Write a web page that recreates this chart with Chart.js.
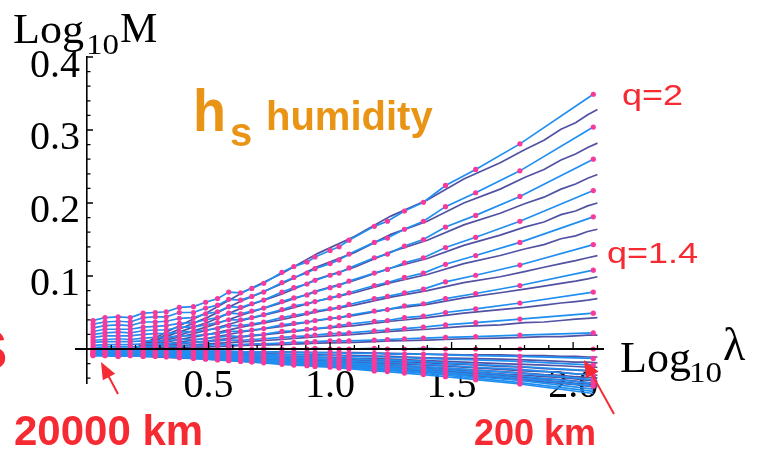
<!DOCTYPE html>
<html>
<head>
<meta charset="utf-8">
<script src="https://cdn.jsdelivr.net/npm/chart.js@4/dist/chart.umd.min.js"></script>
<style>
  html, body { margin: 0; padding: 0; background: #fff; }
  canvas { display: block; }
</style>
</head>
<body>
<canvas id="moments" width="758" height="450"></canvas>
<script>
// ========================
// DATA
// ========================

// scale ratio positions (log10 lambda) where the moments were sampled
const logLambda = [0.025, 0.074, 0.128, 0.178, 0.231, 0.281, 0.326, 0.380, 0.438, 0.488,
                   0.537, 0.583, 0.632, 0.678, 0.727, 0.802, 0.851, 0.905, 0.938, 1.000,
                   1.037, 1.078, 1.182, 1.236, 1.306, 1.384, 1.475, 1.599, 1.781, 2.083];

// denser positions for the raw (unsampled) curves
const rawLogLambda = [0.19, 0.35, 0.50, 0.65, 0.80, 0.95, 1.10, 1.25, 1.40, 1.55,
                      1.70, 1.80, 1.88, 1.95, 2.01, 2.06, 2.10];

const qValues = [2.0, 1.9, 1.8, 1.7, 1.6, 1.5, 1.4, 1.3, 1.2, 1.1, 1.0,
                 0.9, 0.8, 0.7, 0.6, 0.5, 0.4, 0.3, 0.2, 0.1, 0.0];

// log10 M at the sampled points, one array per q
const fit20 = [0.039, 0.043, 0.044, 0.043, 0.049, 0.050, 0.051, 0.057, 0.058, 0.064, 0.069, 0.078, 0.077, 0.083, 0.090, 0.105, 0.113, 0.119, 0.126, 0.135, 0.140, 0.149, 0.168, 0.175, 0.189, 0.201, 0.224, 0.246, 0.281, 0.349];
const fit19 = [0.034, 0.037, 0.038, 0.037, 0.043, 0.044, 0.044, 0.050, 0.050, 0.056, 0.060, 0.068, 0.067, 0.072, 0.078, 0.091, 0.098, 0.104, 0.110, 0.117, 0.122, 0.130, 0.146, 0.152, 0.164, 0.175, 0.195, 0.214, 0.244, 0.304];
const fit18 = [0.029, 0.032, 0.033, 0.032, 0.037, 0.037, 0.038, 0.042, 0.043, 0.048, 0.051, 0.058, 0.057, 0.062, 0.067, 0.078, 0.084, 0.089, 0.094, 0.101, 0.104, 0.111, 0.125, 0.130, 0.141, 0.150, 0.167, 0.183, 0.209, 0.260];
const fit17 = [0.024, 0.027, 0.027, 0.027, 0.030, 0.031, 0.032, 0.035, 0.036, 0.040, 0.043, 0.049, 0.048, 0.052, 0.056, 0.065, 0.070, 0.074, 0.078, 0.084, 0.087, 0.093, 0.104, 0.109, 0.118, 0.125, 0.139, 0.153, 0.175, 0.217];
const fit16 = [0.020, 0.022, 0.023, 0.022, 0.025, 0.026, 0.026, 0.030, 0.030, 0.033, 0.036, 0.040, 0.040, 0.043, 0.047, 0.054, 0.059, 0.062, 0.065, 0.070, 0.073, 0.077, 0.087, 0.091, 0.098, 0.104, 0.116, 0.128, 0.146, 0.181];
const fit15 = [0.016, 0.018, 0.018, 0.018, 0.020, 0.021, 0.021, 0.023, 0.024, 0.026, 0.028, 0.032, 0.032, 0.034, 0.037, 0.043, 0.046, 0.049, 0.052, 0.055, 0.057, 0.061, 0.069, 0.072, 0.077, 0.082, 0.092, 0.101, 0.115, 0.143];
const fit14 = [0.012, 0.013, 0.014, 0.013, 0.015, 0.016, 0.016, 0.018, 0.018, 0.020, 0.021, 0.024, 0.024, 0.026, 0.028, 0.033, 0.035, 0.037, 0.039, 0.042, 0.043, 0.046, 0.052, 0.054, 0.059, 0.062, 0.069, 0.076, 0.087, 0.108];
const fit13 = [0.009, 0.010, 0.010, 0.010, 0.011, 0.011, 0.011, 0.013, 0.013, 0.014, 0.016, 0.018, 0.017, 0.019, 0.020, 0.024, 0.025, 0.027, 0.028, 0.030, 0.032, 0.034, 0.038, 0.039, 0.043, 0.045, 0.050, 0.055, 0.063, 0.078];
const fit12 = [0.005, 0.006, 0.006, 0.006, 0.007, 0.007, 0.007, 0.008, 0.009, 0.010, 0.011, 0.012, 0.012, 0.013, 0.014, 0.016, 0.017, 0.018, 0.019, 0.021, 0.021, 0.022, 0.025, 0.026, 0.028, 0.030, 0.033, 0.036, 0.041, 0.049];
const fit11 = [0.002, 0.003, 0.003, 0.003, 0.003, 0.004, 0.004, 0.004, 0.005, 0.005, 0.006, 0.006, 0.006, 0.007, 0.007, 0.008, 0.009, 0.009, 0.010, 0.011, 0.011, 0.011, 0.012, 0.013, 0.014, 0.015, 0.016, 0.017, 0.019, 0.022];
const fit10 = [0.000, 0.000, 0.001, 0.000, 0.000, 0.001, 0.000, 0.000, 0.001, 0.000, 0.000, 0.001, 0.000, 0.000, 0.001, 0.000, 0.000, 0.000, 0.001, 0.000, 0.000, 0.000, 0.001, 0.000, 0.000, 0.001, 0.000, 0.000, 0.000, 0.000];
const fit09 = [-0.002, -0.002, -0.002, -0.002, -0.002, -0.002, -0.002, -0.003, -0.003, -0.003, -0.003, -0.003, -0.004, -0.004, -0.004, -0.004, -0.005, -0.005, -0.005, -0.005, -0.005, -0.006, -0.006, -0.007, -0.007, -0.007, -0.008, -0.009, -0.010, -0.013];
const fit08 = [-0.003, -0.003, -0.004, -0.003, -0.004, -0.004, -0.004, -0.004, -0.005, -0.005, -0.005, -0.006, -0.006, -0.006, -0.007, -0.008, -0.008, -0.008, -0.009, -0.009, -0.009, -0.010, -0.011, -0.011, -0.012, -0.013, -0.014, -0.015, -0.017, -0.022];
const fit07 = [-0.004, -0.004, -0.005, -0.004, -0.005, -0.005, -0.005, -0.006, -0.006, -0.007, -0.007, -0.008, -0.008, -0.009, -0.009, -0.010, -0.011, -0.011, -0.012, -0.012, -0.013, -0.013, -0.015, -0.015, -0.016, -0.017, -0.019, -0.021, -0.024, -0.030];
const fit06 = [-0.005, -0.005, -0.006, -0.005, -0.006, -0.006, -0.006, -0.007, -0.008, -0.008, -0.009, -0.009, -0.010, -0.011, -0.011, -0.012, -0.013, -0.014, -0.014, -0.015, -0.015, -0.016, -0.018, -0.018, -0.019, -0.021, -0.022, -0.025, -0.028, -0.036];
const fit05 = [-0.006, -0.006, -0.007, -0.006, -0.007, -0.007, -0.008, -0.008, -0.009, -0.010, -0.010, -0.011, -0.012, -0.012, -0.013, -0.014, -0.015, -0.016, -0.017, -0.017, -0.018, -0.019, -0.021, -0.021, -0.023, -0.024, -0.026, -0.029, -0.033, -0.042];
const fit04 = [-0.007, -0.007, -0.008, -0.007, -0.008, -0.008, -0.008, -0.009, -0.010, -0.011, -0.012, -0.012, -0.013, -0.014, -0.015, -0.016, -0.017, -0.018, -0.018, -0.019, -0.020, -0.021, -0.023, -0.024, -0.025, -0.027, -0.029, -0.032, -0.037, -0.047];
const fit03 = [-0.008, -0.008, -0.008, -0.008, -0.008, -0.008, -0.009, -0.010, -0.011, -0.012, -0.013, -0.013, -0.014, -0.015, -0.016, -0.018, -0.018, -0.019, -0.020, -0.021, -0.022, -0.023, -0.025, -0.026, -0.028, -0.029, -0.032, -0.035, -0.040, -0.051];
const fit02 = [-0.008, -0.008, -0.009, -0.008, -0.009, -0.009, -0.010, -0.011, -0.012, -0.013, -0.014, -0.014, -0.015, -0.016, -0.017, -0.019, -0.020, -0.021, -0.022, -0.023, -0.023, -0.024, -0.027, -0.028, -0.030, -0.032, -0.034, -0.038, -0.043, -0.055];
const fit01 = [-0.009, -0.009, -0.010, -0.009, -0.010, -0.010, -0.010, -0.011, -0.012, -0.013, -0.014, -0.015, -0.016, -0.017, -0.018, -0.020, -0.021, -0.022, -0.023, -0.024, -0.025, -0.026, -0.029, -0.029, -0.031, -0.033, -0.036, -0.040, -0.046, -0.058];
const fit00 = [-0.009, -0.009, -0.010, -0.009, -0.010, -0.010, -0.011, -0.012, -0.013, -0.014, -0.015, -0.016, -0.017, -0.018, -0.019, -0.021, -0.022, -0.023, -0.024, -0.025, -0.026, -0.027, -0.030, -0.031, -0.033, -0.035, -0.038, -0.042, -0.048, -0.061];

// raw curves, one array per q
const raw20 = [0.000, 0.027, 0.051, 0.079, 0.103, 0.131, 0.154, 0.182, 0.204, 0.233, 0.255, 0.273, 0.286, 0.301, 0.310, 0.321, 0.328];
const raw19 = [0.000, 0.023, 0.044, 0.068, 0.089, 0.113, 0.132, 0.157, 0.175, 0.200, 0.219, 0.235, 0.246, 0.259, 0.267, 0.276, 0.282];
const raw18 = [0.000, 0.020, 0.037, 0.058, 0.075, 0.096, 0.112, 0.133, 0.149, 0.170, 0.186, 0.199, 0.208, 0.219, 0.226, 0.234, 0.239];
const raw17 = [0.000, 0.016, 0.031, 0.048, 0.063, 0.080, 0.094, 0.111, 0.124, 0.142, 0.156, 0.167, 0.174, 0.184, 0.189, 0.196, 0.200];
const raw16 = [0.000, 0.014, 0.026, 0.040, 0.052, 0.066, 0.077, 0.091, 0.102, 0.117, 0.128, 0.137, 0.143, 0.151, 0.155, 0.161, 0.164];
const raw15 = [0.000, 0.011, 0.020, 0.031, 0.040, 0.051, 0.060, 0.071, 0.080, 0.091, 0.099, 0.106, 0.112, 0.117, 0.121, 0.125, 0.128];
const raw14 = [0.000, 0.008, 0.015, 0.024, 0.031, 0.039, 0.046, 0.055, 0.061, 0.070, 0.077, 0.082, 0.086, 0.090, 0.093, 0.096, 0.099];
const raw13 = [0.000, 0.006, 0.011, 0.017, 0.022, 0.028, 0.032, 0.038, 0.043, 0.049, 0.054, 0.057, 0.060, 0.063, 0.065, 0.067, 0.069];
const raw12 = [0.000, 0.004, 0.007, 0.010, 0.013, 0.017, 0.020, 0.024, 0.027, 0.031, 0.033, 0.036, 0.037, 0.039, 0.041, 0.042, 0.043];
const raw11 = [0.000, 0.002, 0.003, 0.005, 0.006, 0.008, 0.009, 0.011, 0.012, 0.014, 0.015, 0.016, 0.017, 0.017, 0.018, 0.019, 0.019];
const raw10 = [0.000, 0.000, 0.000, 0.000, 0.000, 0.000, 0.000, 0.000, 0.000, 0.000, 0.000, 0.000, 0.000, 0.000, 0.000, 0.000, 0.000];
const raw09 = [-0.002, -0.003, -0.003, -0.004, -0.004, -0.005, -0.005, -0.006, -0.007, -0.008, -0.008, -0.009, -0.009, -0.010, -0.010, -0.011, -0.011];
const raw08 = [-0.003, -0.004, -0.005, -0.006, -0.007, -0.008, -0.009, -0.010, -0.012, -0.013, -0.014, -0.015, -0.016, -0.017, -0.018, -0.018, -0.019];
const raw07 = [-0.004, -0.006, -0.007, -0.008, -0.010, -0.011, -0.013, -0.014, -0.016, -0.018, -0.020, -0.021, -0.022, -0.023, -0.024, -0.025, -0.025];
const raw06 = [-0.005, -0.007, -0.008, -0.010, -0.012, -0.014, -0.015, -0.017, -0.019, -0.021, -0.024, -0.025, -0.027, -0.028, -0.029, -0.030, -0.031];
const raw05 = [-0.006, -0.008, -0.010, -0.012, -0.014, -0.016, -0.018, -0.020, -0.022, -0.025, -0.028, -0.030, -0.031, -0.032, -0.034, -0.035, -0.036];
const raw04 = [-0.007, -0.009, -0.011, -0.013, -0.015, -0.018, -0.020, -0.022, -0.025, -0.028, -0.031, -0.033, -0.035, -0.036, -0.038, -0.039, -0.040];
const raw03 = [-0.008, -0.010, -0.012, -0.014, -0.017, -0.019, -0.022, -0.024, -0.027, -0.030, -0.034, -0.036, -0.038, -0.039, -0.041, -0.043, -0.044];
const raw02 = [-0.008, -0.011, -0.013, -0.015, -0.018, -0.021, -0.023, -0.026, -0.029, -0.032, -0.036, -0.039, -0.041, -0.042, -0.044, -0.046, -0.047];
const raw01 = [-0.009, -0.011, -0.013, -0.016, -0.019, -0.022, -0.025, -0.028, -0.030, -0.034, -0.038, -0.041, -0.043, -0.045, -0.047, -0.048, -0.049];
const raw00 = [-0.009, -0.012, -0.014, -0.017, -0.020, -0.023, -0.026, -0.029, -0.032, -0.036, -0.040, -0.043, -0.045, -0.047, -0.049, -0.051, -0.052];

// axis tick labels
const xTickValues = [0.5, 1.0, 1.5, 2.0];
const xTickLabels = ['0.5', '1.0', '1.5', '2.0'];
const yTickValues = [0.1, 0.2, 0.3, 0.4];
const yTickLabels = ['0.1', '0.2', '0.3', '0.4'];

// ========================
// STYLE
// ========================

const FIT_COLOR = '#1f8ef1';
const RAW_COLOR = '#5252a3';
const DOT_COLOR = '#f8399c';
const RED = '#f52a32';
const ORANGE = '#ea9416';
const SERIF = '"Liberation Serif", "Times New Roman", serif';
const SANS = '"Liberation Sans", Arial, sans-serif';

const fits = [fit20, fit19, fit18, fit17, fit16, fit15, fit14, fit13, fit12, fit11, fit10,
              fit09, fit08, fit07, fit06, fit05, fit04, fit03, fit02, fit01, fit00];
const raws = [raw20, raw19, raw18, raw17, raw16, raw15, raw14, raw13, raw12, raw11, raw10,
              raw09, raw08, raw07, raw06, raw05, raw04, raw03, raw02, raw01, raw00];

// sampled curves first so they (and their dots) sit on top of the raw curves
const datasets = [];
fits.forEach((vals, i) => {
  datasets.push({
    label: `q=${qValues[i]} sampled`,
    data: logLambda.map((x, k) => ({ x, y: vals[k] })),
    borderColor: FIT_COLOR,
    borderWidth: 1.7,
    pointRadius: 2.6,
    pointBackgroundColor: DOT_COLOR,
    pointBorderWidth: 0,
    clip: false
  });
});
raws.forEach((vals, i) => {
  datasets.push({
    label: `q=${qValues[i]} raw`,
    data: rawLogLambda.map((x, k) => ({ x, y: vals[k] })),
    borderColor: RAW_COLOR,
    borderWidth: 1.7,
    pointRadius: 0,
    clip: false
  });
});

// ========================
// DECORATION (axis line, inward ticks, labels)
// ========================

function drawText(ctx, text, px, py, font, color, sx = 1) {
  ctx.save();
  ctx.font = font;
  ctx.fillStyle = color;
  ctx.textAlign = 'left';
  ctx.textBaseline = 'alphabetic';
  ctx.translate(px, py);
  ctx.scale(sx, 1);
  ctx.fillText(text, 0, 0);
  ctx.restore();
}

function drawArrow(ctx, x1, y1, x2, y2) {
  const ang = Math.atan2(y2 - y1, x2 - x1);
  const head = 17, half = 7;
  ctx.save();
  ctx.strokeStyle = RED;
  ctx.fillStyle = RED;
  ctx.lineWidth = 2;
  ctx.beginPath();
  ctx.moveTo(x1, y1);
  ctx.lineTo(x2 - Math.cos(ang) * head * 0.8, y2 - Math.sin(ang) * head * 0.8);
  ctx.stroke();
  ctx.beginPath();
  ctx.moveTo(x2, y2);
  ctx.lineTo(x2 - Math.cos(ang) * head - Math.sin(ang) * half, y2 - Math.sin(ang) * head + Math.cos(ang) * half);
  ctx.lineTo(x2 - Math.cos(ang) * head + Math.sin(ang) * half, y2 - Math.sin(ang) * head - Math.cos(ang) * half);
  ctx.closePath();
  ctx.fill();
  ctx.restore();
}

const decor = {
  id: 'decor',
  afterDraw(chart) {
    const { ctx, scales: { x, y } } = chart;
    const y0 = y.getPixelForValue(0);

    ctx.save();
    ctx.strokeStyle = '#000';
    ctx.lineWidth = 2;
    ctx.beginPath();
    ctx.moveTo(x.left - 12, y0);
    ctx.lineTo(x.right, y0);
    ctx.stroke();

    ctx.lineWidth = 1.3;
    ctx.beginPath();
    for (let k = 1; k <= 21; k++) {
      const px = x.getPixelForValue(k / 10);
      ctx.moveTo(px, y0);
      ctx.lineTo(px, y0 - (k % 5 === 0 ? 7 : 4));
    }
    for (let k = -2; k <= 20; k++) {
      const py = y.getPixelForValue(k * 0.02);
      ctx.moveTo(x.left, py);
      ctx.lineTo(x.left + (k % 5 === 0 ? 6 : 3.5), py);
    }
    ctx.stroke();
    ctx.restore();

    // axis titles
    drawText(ctx, 'Log', 13, 43, `42px ${SERIF}`, '#000', 1.05);
    drawText(ctx, '10', 86, 54, `30px ${SERIF}`, '#000', 1.1);
    drawText(ctx, 'M', 120, 42, `42px ${SERIF}`, '#000');
    drawText(ctx, 'Log', 620, 372, `44px ${SERIF}`, '#000');
    drawText(ctx, '10', 689, 382, `30px ${SERIF}`, '#000', 1.1);
    drawText(ctx, 'λ', 723, 360, `46px ${SERIF}`, '#000');

    // variable name
    drawText(ctx, 'h', 193, 131, `bold 60px ${SANS}`, ORANGE, 0.9);
    drawText(ctx, 's', 230, 146, `bold 40px ${SANS}`, ORANGE);
    drawText(ctx, 'humidity', 266, 130, `bold 40px ${SANS}`, ORANGE);

    // moment orders
    drawText(ctx, 'q=2', 622, 105, `30px ${SANS}`, RED, 1.2);
    drawText(ctx, 'q=1.4', 607, 263, `30px ${SANS}`, RED, 1.2);

    // scale annotations
    drawText(ctx, 'S', -30, 369, `bold 56px ${SANS}`, RED);
    drawText(ctx, '20000 km', 14, 445, `bold 42px ${SANS}`, RED);
    drawText(ctx, '200 km', 474, 445, `bold 36px ${SANS}`, RED);
    drawArrow(ctx, 118, 394, 101, 362);
    drawArrow(ctx, 614, 414, 584, 360);
  }
};

// ========================
// CHART
// ========================

new Chart(document.getElementById('moments'), {
  type: 'line',
  data: { datasets },
  options: {
    responsive: false,
    animation: false,
    devicePixelRatio: 1,
    layout: { padding: { left: 0, top: 57, right: 154, bottom: 67 } },
    elements: { line: { tension: 0 } },
    plugins: { legend: { display: false }, tooltip: { enabled: false } },
    scales: {
      x: {
        type: 'linear',
        position: { y: 0 },
        min: 0,
        max: 2.127,
        afterBuildTicks: s => { s.ticks = xTickValues.map(value => ({ value })); },
        ticks: {
          callback: v => xTickLabels[xTickValues.indexOf(v)],
          font: { family: SERIF, size: 40 },
          color: '#000',
          padding: 14,
          maxRotation: 0,
          autoSkip: false
        },
        grid: { display: false, drawTicks: false },
        border: { display: false }
      },
      y: {
        type: 'linear',
        position: 'left',
        min: -0.0466,
        max: 0.4,
        afterFit: s => { s.width = 87; },
        afterBuildTicks: s => { s.ticks = yTickValues.map(value => ({ value })); },
        ticks: {
          callback: v => yTickLabels[yTickValues.indexOf(v)],
          font: { family: SERIF, size: 40 },
          color: '#000',
          padding: 7,
          labelOffset: 9,
          autoSkip: false
        },
        grid: { display: false, drawTicks: false },
        border: { display: true, color: '#000', width: 1.6 }
      }
    }
  },
  plugins: [decor]
});
</script>
</body>
</html>
